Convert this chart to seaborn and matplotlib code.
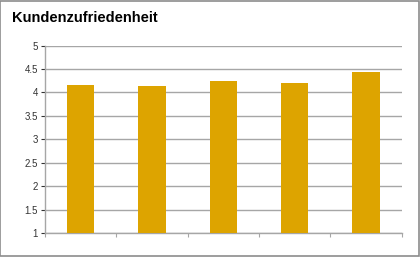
import matplotlib
matplotlib.use("Agg")
import matplotlib.pyplot as plt
import seaborn as sns
import pandas as pd
from matplotlib.patches import Rectangle

categories = ["A", "B", "C", "D", "E"]
values = [4.16, 4.13, 4.24, 4.19, 4.43]
yticks = [1, 1.5, 2, 2.5, 3, 3.5, 4, 4.5, 5]
ytick_labels = ["1", "1.5", "2", "2.5", "3", "3.5", "4", "4.5", "5"]
title = "Kundenzufriedenheit"

sns.set_theme(style="white")
plt.rcParams['font.family'] = ['Liberation Sans', 'DejaVu Sans']

df = pd.DataFrame({"cat": categories, "val": values})

fig = plt.figure(figsize=(4.2, 2.57), dpi=100)
ax = fig.add_axes([45/420, 1-233/257, (401.7-45)/420, (233-45.5)/257])

sns.barplot(data=df, x="cat", y="val", color="#DDA400", saturation=1,
            width=0.38, ax=ax, zorder=3)
for p in ax.patches:
    p.set_edgecolor("none")

ax.set_ylim(1, 5)
ax.set_xlim(-0.5, 4.5)
ax.set_yticks(yticks)
ax.set_yticklabels(ytick_labels)
ax.yaxis.grid(True, color="#A6A6A6", linewidth=1, zorder=0)
ax.set_axisbelow(True)
ax.set_xticks([i - 0.5 for i in range(len(categories) + 1)])
ax.set_xticklabels([])
ax.set_xlabel("")
ax.set_ylabel("")
ax.tick_params(axis="y", labelsize=7, colors="#333333", length=3, width=0.8,
               direction="out", left=True, pad=2)
ax.tick_params(axis="x", length=3, width=0.8, colors="#A6A6A6", bottom=True)
for s in ["top", "right"]:
    ax.spines[s].set_visible(False)
for s in ["left", "bottom"]:
    ax.spines[s].set_color("#A6A6A6")
    ax.spines[s].set_linewidth(1)
for lbl in ax.get_yticklabels():
    lbl.set_color("#333333")

fig.text(12/420, 1-18/257, title, fontsize=10.5, fontweight="bold",
         color="black", va="center", ha="left")

fig.patches.append(Rectangle((0.001, 0.002), 0.997, 0.995, transform=fig.transFigure,
                             fill=False, edgecolor="#8C8C8C", linewidth=1.2))

fig.savefig("out.png", dpi=100)
